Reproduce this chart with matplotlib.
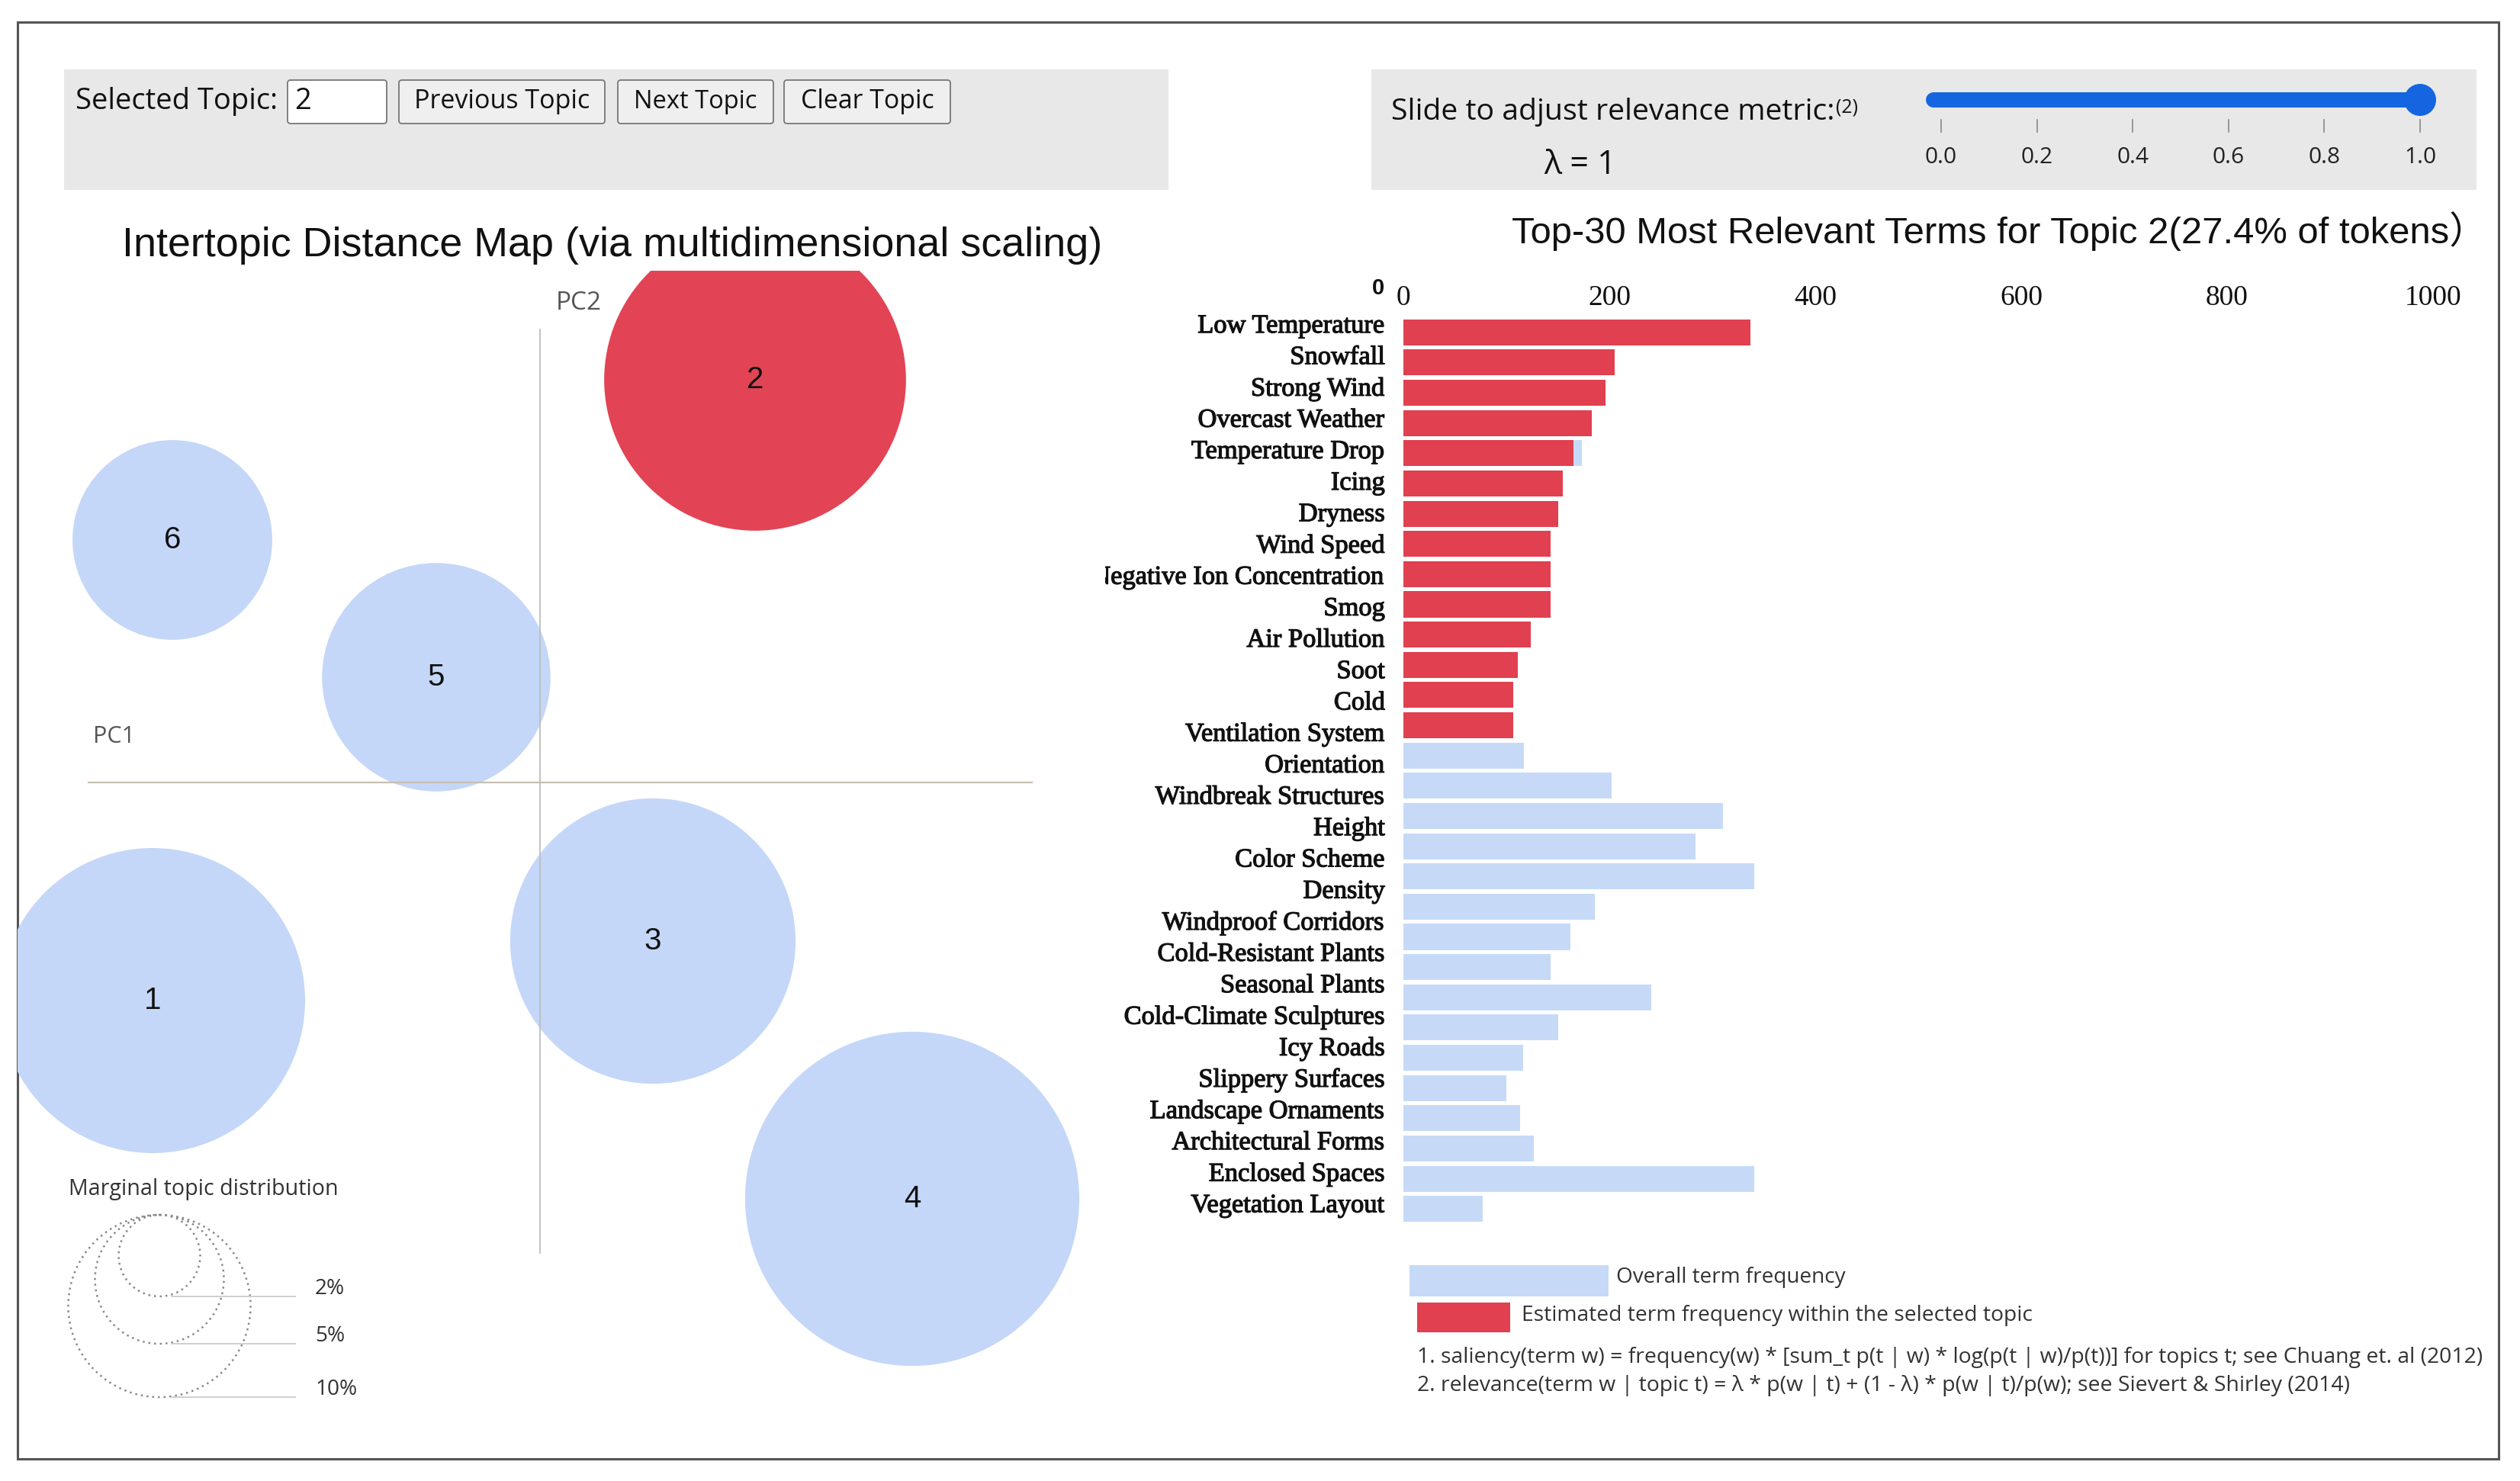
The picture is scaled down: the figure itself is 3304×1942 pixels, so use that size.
import numpy as np
import matplotlib
matplotlib.use('Agg')
import matplotlib.pyplot as plt
import matplotlib.patheffects as pe
from matplotlib.patches import Rectangle, Circle, FancyBboxPatch
from matplotlib.transforms import blended_transform_factory, Bbox, TransformedBbox

# ---------------- data ----------------
topics = ['1', '2', '3', '4', '5', '6']
pc1 = [-0.254, 0.141, 0.074, 0.244, -0.068, -0.241]
pc2 = [-0.143, 0.264, -0.104, -0.273, 0.069, 0.159]
topic_share = [28.0, 27.4, 24.5, 33.6, 15.7, 12.0]   # % of tokens
selected_topic = '2'
legend_shares = [2, 5, 10]

terms = ['Low Temperature', 'Snowfall', 'Strong Wind', 'Overcast Weather',
         'Temperature Drop', 'Icing', 'Dryness', 'Wind Speed',
         'Negative Ion Concentration', 'Smog', 'Air Pollution', 'Soot', 'Cold',
         'Ventilation System', 'Orientation', 'Windbreak Structures', 'Height',
         'Color Scheme', 'Density', 'Windproof Corridors', 'Cold-Resistant Plants',
         'Seasonal Plants', 'Cold-Climate Sculptures', 'Icy Roads',
         'Slippery Surfaces', 'Landscape Ornaments', 'Architectural Forms',
         'Enclosed Spaces', 'Vegetation Layout']
topic_freq = [337, 205, 196, 183, 165, 155, 150, 143, 143, 143, 124, 111, 107, 107,
              0, 0, 0, 0, 0, 0, 0, 0, 0, 0, 0, 0, 0, 0, 0, 0]
overall_freq = [337, 205, 196, 183, 173, 155, 150, 143, 143, 143, 124, 111, 107, 107,
                117, 202, 310, 284, 341, 186, 162, 143, 241, 150, 116, 100, 113, 127, 341, 77]
x_ticks = [0, 200, 400, 600, 800, 1000]
lambda_ticks = [0.0, 0.2, 0.4, 0.6, 0.8, 1.0]
lambda_value = 1.0

# ---------------- style ----------------
RED_C = '#E24455'
BLUE_C = '#C4D7F8'
RED_B = '#E0404F'
BLUE_B = '#C6DAF8'
PANEL = '#e8e8e8'
SANS = 'Liberation Sans'
UI = 'Open Sans'
SERIF = 'Liberation Serif'

W, H = 3304, 1942
fig = plt.figure(figsize=(W / 100, H / 100), dpi=100)
fig.patch.set_facecolor('white')

bg = fig.add_axes([0, 0, 1, 1])
bg.set_xlim(0, W)
bg.set_ylim(H, 0)
bg.axis('off')
bg.set_zorder(0)

R = fig.canvas.get_renderer()


def fbox(x0, y0, x1, y1):
    return [x0 / W, 1 - y1 / H, (x1 - x0) / W, (y1 - y0) / H]


def put(x, y, s, width, ha='left', va='center', **kw):
    t = bg.text(x, y, s, fontsize=20, ha=ha, va=va, **kw)
    w = t.get_window_extent(R).width
    t.set_fontsize(20 * width / w)
    return t


# outer frame
bg.add_patch(Rectangle((23, 29), 3253, 1884, fill=False, edgecolor='#555555', lw=2.2, zorder=5))

# control panels
bg.add_patch(Rectangle((84, 91), 1448, 158, facecolor=PANEL, edgecolor='none'))
bg.add_patch(Rectangle((1798, 91), 1449, 158, facecolor=PANEL, edgecolor='none'))

# topic selector
st = put(99, 133, 'Selected Topic:', 264, family=UI, color='#111111')
bg.add_patch(FancyBboxPatch((377, 105), 130, 57, boxstyle='round,pad=0,rounding_size=4',
                            facecolor='white', edgecolor='#767676', lw=1.3))
bg.text(386, 133, selected_topic, fontsize=st.get_fontsize(), ha='left', va='center',
        family=UI, color='#111111')
for (x0, x1), lab, tw in [((523, 793), 'Previous Topic', 230),
                          ((810, 1014), 'Next Topic', 161),
                          ((1028, 1246), 'Clear Topic', 175)]:
    bg.add_patch(FancyBboxPatch((x0, 105), x1 - x0, 57, boxstyle='round,pad=0,rounding_size=4',
                                facecolor='#efefef', edgecolor='#767676', lw=1.3))
    put((x0 + x1) / 2, 133, lab, tw, ha='center', family=UI, color='#111111')

# relevance slider
put(1824, 147, 'Slide to adjust relevance metric:', 580, family=UI, color='#111111')
put(2407, 141, '(2)', 29, family=UI, color='#111111')
put(2024, 217, f'λ = {lambda_value:g}', 95, family=UI, color='#111111')


def sx(v):
    return 2545 + 628 * v


bg.plot([2535, sx(lambda_value)], [131, 131], color='#1565e0', lw=14.4, solid_capstyle='round')
bg.add_patch(Circle((sx(lambda_value), 131), 21, facecolor='#1565e0', edgecolor='none'))
for v in lambda_ticks:
    bg.plot([sx(v), sx(v)], [157, 173], color='#888888', lw=1.2)
    put(sx(v), 206, f'{v:.1f}', 42, ha='center', family=UI, color='#222222')

# titles
put(803, 322, 'Intertopic Distance Map (via multidimensional scaling)', 1283,
    ha='center', family=SANS, color='#111111')
put(1982, 303, 'Top-30 Most Relevant Terms for Topic 2(27.4% of tokens）', 1275,
    family=[SANS, 'Noto Sans CJK SC'], color='#111111')

# ---------------- intertopic map ----------------
PX = 2000.0
ox, oy = 708, 1026
mx0, my0, mx1, my1 = 23, 355, 1456, 1911
axm = fig.add_axes(fbox(mx0, my0, mx1, my1))
axm.set_xlim((mx0 - ox) / PX, (mx1 - ox) / PX)
axm.set_ylim((oy - my1) / PX, (oy - my0) / PX)
axm.axis('off')
axm.set_zorder(1)
K = 37.8  # px of radius per sqrt(% of tokens)
for t, x, y, s in zip(topics, pc1, pc2, topic_share):
    col = RED_C if t == selected_topic else BLUE_C
    axm.add_patch(Circle((x, y), K * np.sqrt(s) / PX, facecolor=col, edgecolor='none', zorder=1))
    axm.text(x, y, t, ha='center', va='center', fontsize=29, family=SANS, color='#111111', zorder=4)
axm.axhline(0, xmin=(116 - mx0) / (mx1 - mx0), xmax=(1353 - mx0) / (mx1 - mx0),
            color='#c6bfb0', lw=1.6, zorder=3)
axm.axvline(0, ymin=(my1 - 1643) / (my1 - my0), ymax=(my1 - 432) / (my1 - my0),
            color='#bdbdbd', lw=1.3, zorder=3)
put(729, 398, 'PC2', 60, family=UI, color='#555555')
put(122, 966, 'PC1', 55, family=UI, color='#555555')

# marginal topic distribution legend
put(90, 1560, 'Marginal topic distribution', 352, family=UI, color='#333333')
ltop, lcx = 1593, 209
lab_fs = None
for p in legend_shares:
    r = K * np.sqrt(p)
    bg.add_patch(Circle((lcx, ltop + r), r, fill=False, edgecolor='#8a8a8a', lw=1.8,
                        linestyle=(0, (1, 2))))
    yb = ltop + 2 * r
    bg.plot([lcx + 16, 387], [yb, yb], color='#cccccc', lw=1.3)
    if lab_fs is None:
        tmp = put(413, yb - 10, f'{legend_shares[-1]}%', 55, family=UI, color='#333333')
        lab_fs = tmp.get_fontsize()
        tmp.remove()
    bg.text(413, yb - 10, f'{p}%', fontsize=lab_fs, ha='left', va='center',
            family=UI, color='#333333')

# ---------------- bar chart ----------------
bx0, bx1, by0, by1 = 1840, 3190, 416, 1605
axb = fig.add_axes(fbox(bx0, by0, bx1, by1))
axb.set_zorder(1)
axb.patch.set_alpha(0)
n = len(overall_freq)
ypos = np.arange(n)
axb.barh(ypos, overall_freq, height=0.86, color=BLUE_B, edgecolor='none')
axb.barh(ypos, topic_freq, height=0.86, color=RED_B, edgecolor='none')
axb.set_xlim(0, 1000)
axb.set_ylim(n - 0.5, -0.5)
axb.xaxis.tick_top()
axb.set_xticks(x_ticks)
axb.set_xticklabels([str(v) for v in x_ticks], family=SERIF, fontsize=27, color='#111111')
axb.tick_params(axis='x', length=0, pad=6)
axb.set_yticks([])
for sp in axb.spines.values():
    sp.set_visible(False)

label_y = np.linspace(-0.2, 28.9, len(terms))
trans = blended_transform_factory(bg.transData, axb.transData)
clip = TransformedBbox(Bbox.from_extents(1449 / W, 0, 1, 1), fig.transFigure)
probe = bg.text(0, 0, terms[0], fontsize=20, family=SERIF)
lab_size = 20 * 245 / probe.get_window_extent(R).width
probe.remove()
heavy = [pe.withStroke(linewidth=0.9, foreground='#111111')]
for term, yv in zip(terms, label_y):
    tt = bg.text(1816, yv, term, transform=trans, ha='right', va='center',
                 fontsize=lab_size, family=SERIF, color='#111111', clip_on=True,
                 path_effects=heavy)
    tt.set_clip_box(clip)
bg.text(1807, 378, '0', fontsize=21, fontweight='bold', family=SANS, ha='center', va='center',
        color='#111111')

# bar legend and notes
bg.add_patch(Rectangle((1848, 1659), 261, 41, facecolor=BLUE_B, edgecolor='none'))
bg.add_patch(Rectangle((1858, 1708), 122, 39, facecolor=RED_B, edgecolor='none'))
put(2119, 1675, 'Overall term frequency', 300, family=UI, color='#333333')
put(1995, 1725, 'Estimated term frequency within the selected topic', 668, family=UI, color='#333333')
n1 = put(1858, 1780, '1. saliency(term w) = frequency(w) * [sum_t p(t | w) * log(p(t | w)/p(t))] '
         'for topics t; see Chuang et. al (2012)', 1395, family=UI, color='#333333')
bg.text(1858, 1817, '2. relevance(term w | topic t) = λ * p(w | t) + (1 - λ) * p(w | t)/p(w); '
        'see Sievert & Shirley (2014)', fontsize=n1.get_fontsize(), ha='left', va='center',
        family=UI, color='#333333')

fig.savefig('out.png', dpi=100)
